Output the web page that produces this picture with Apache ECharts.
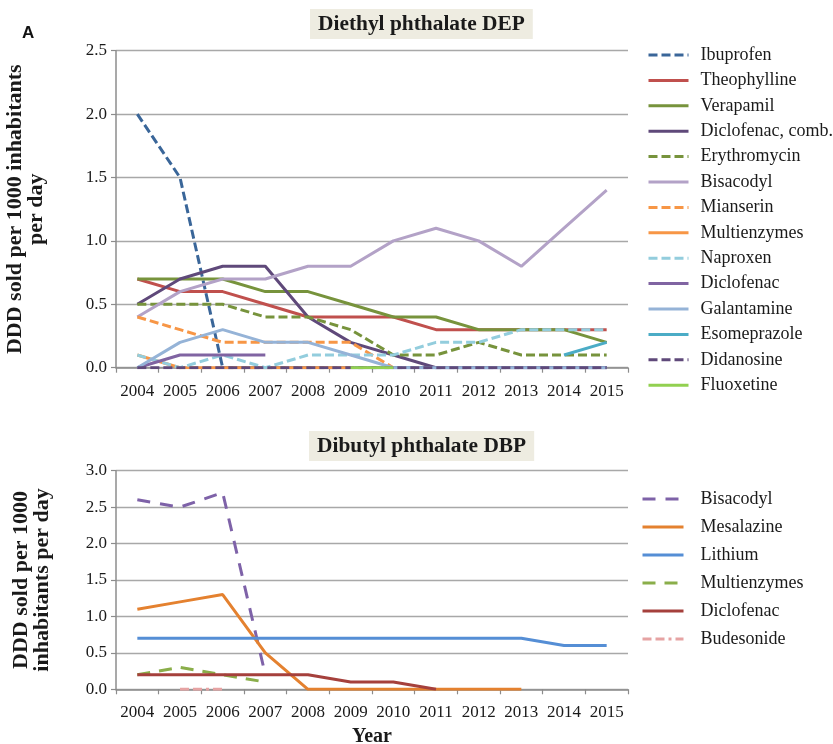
<!DOCTYPE html>
<html>
<head>
<meta charset="utf-8">
<script src="https://cdn.jsdelivr.net/npm/echarts@6/dist/echarts.min.js"></script>
<style>html,body{margin:0;padding:0;background:#fff}#c{width:833px;height:744px}</style>
</head>
<body>
<div id="c"></div>
<script>
const years = ['2004','2005','2006','2007','2008','2009','2010','2011','2012','2013','2014','2015'];

// Diethyl phthalate DEP
const ibuprofen      = [2.0,1.5,0,0,0,0,0,0,0,0,0,0];
const theophylline   = [0.7,0.6,0.6,0.5,0.4,0.4,0.4,0.3,0.3,0.3,0.3,0.3];
const verapamil      = [0.7,0.7,0.7,0.6,0.6,0.5,0.4,0.4,0.3,0.3,0.3,0.2];
const diclofenacComb = [0.5,0.7,0.8,0.8,0.4,0.2,0.1,0,0,0,0,0];
const erythromycin   = [0.5,0.5,0.5,0.4,0.4,0.3,0.1,0.1,0.2,0.1,0.1,0.1];
const bisacodylDep   = [0.4,0.6,0.7,0.7,0.8,0.8,1.0,1.1,1.0,0.8,1.1,1.4];
const mianserin      = [0.4,0.3,0.2,0.2,0.2,0.2,0,null,null,null,null,null];
const multienzDep    = [0.1,0,0,0,0,0,null,null,null,null,null,null];
const naproxen       = [0.1,0,0.1,0,0.1,0.1,0.1,0.2,0.2,0.3,0.3,0.3];
const diclofenacDep  = [0,0.1,0.1,0.1,null,null,null,null,null,null,null,null];
const galantamine    = [0,0.2,0.3,0.2,0.2,0.1,0,0,0,0,0,0];
const esomeprazole   = [null,null,null,null,null,null,null,null,null,null,0.1,0.2];
const didanosine     = [0,0,0,0,0,0,0,0,0,0,0,0];
const fluoxetine     = [null,null,null,null,null,0,0,null,null,null,null,null];

// Dibutyl phthalate DBP
const bisacodylDbp   = [2.6,2.5,2.7,0.2,null,null,null,null,null,null,null,null];
const mesalazine     = [1.1,1.2,1.3,0.5,0,0,0,0,0,0,null,null];
const lithium        = [0.7,0.7,0.7,0.7,0.7,0.7,0.7,0.7,0.7,0.7,0.6,0.6];
const multienzDbp    = [0.2,0.3,0.2,0.1,null,null,null,null,null,null,null,null];
const diclofenacDbp  = [0.2,0.2,0.2,0.2,0.2,0.1,0.1,0,null,null,null,null];
const budesonide     = [null,0,0,null,null,null,null,null,null,null,null,null];

const topTicks = [0,0.5,1.0,1.5,2.0,2.5];
const botTicks = [0,0.5,1.0,1.5,2.0,2.5,3.0];

const SERIF = '"Liberation Serif", "DejaVu Serif", serif';
const TXT = '#1a1a1a';

function ln(name, data, color, type, axis, width) {
  return {
    name: name, type: 'line', data: data,
    xAxisIndex: axis, yAxisIndex: axis,
    symbol: 'none', showSymbol: false, connectNulls: false,
    lineStyle: { color: color, width: width || 3, type: type || 'solid', cap: 'butt' },
    itemStyle: { color: color },
    emphasis: { disabled: true }
  };
}
const D = [9, 4];
const topSeries = [
  ln('Ibuprofen', ibuprofen, '#3A6699', D, 0),
  ln('Theophylline', theophylline, '#C0504D', 'solid', 0),
  ln('Verapamil', verapamil, '#77933C', 'solid', 0),
  ln('Diclofenac, comb.', diclofenacComb, '#5F497A', 'solid', 0),
  ln('Erythromycin', erythromycin, '#77933C', D, 0),
  ln('Bisacodyl', bisacodylDep, '#B3A2C7', 'solid', 0),
  ln('Mianserin', mianserin, '#F79646', D, 0),
  ln('Multienzymes', multienzDep, '#F79646', 'solid', 0),
  ln('Naproxen', naproxen, '#93CDDD', D, 0),
  ln('Diclofenac', diclofenacDep, '#8064A2', 'solid', 0),
  ln('Galantamine', galantamine, '#95B3D7', 'solid', 0),
  ln('Esomeprazole', esomeprazole, '#4BACC6', 'solid', 0),
  ln('Didanosine', didanosine, '#5F497A', D, 0),
  ln('Fluoxetine', fluoxetine, '#92D050', 'solid', 0)
];
const botSeries = [
  ln('Bisacodyl ', bisacodylDbp, '#7E62A8', [13, 10], 1),
  ln('Mesalazine', mesalazine, '#E4812F', 'solid', 1),
  ln('Lithium', lithium, '#558ED5', 'solid', 1),
  ln('Multienzymes ', multienzDbp, '#8AAE4A', [13, 9], 1),
  ln('Diclofenac ', diclofenacDbp, '#A5403C', 'solid', 1),
  ln('Budesonide', budesonide, '#E6A3A3', [9, 4, 9, 4, 3, 4], 1)
];

function xAx(idx, withName) {
  const a = {
    type: 'category', data: years, gridIndex: idx, boundaryGap: true,
    axisLine: { show: true, lineStyle: { color: '#8C8C8C', width: 1.5 } },
    axisTick: { show: true, interval: 0, length: 5, lineStyle: { color: '#8C8C8C', width: 1.2 } },
    axisLabel: { interval: 0, margin: 15, fontFamily: SERIF, fontSize: 17, color: TXT },
    splitLine: { show: false }
  };
  if (withName) {
    a.name = 'Year'; a.nameLocation = 'middle'; a.nameGap = 38;
    a.nameTextStyle = { fontFamily: SERIF, fontSize: 20, fontWeight: 'bold', color: TXT };
  }
  return a;
}
function yAx(idx, ticks, name, gap) {
  return {
    type: 'value', gridIndex: idx, min: ticks[0], max: ticks[ticks.length - 1], interval: 0.5,
    axisLine: { show: true, lineStyle: { color: '#8C8C8C', width: 1.5 } },
    axisTick: { show: true, length: 5, lineStyle: { color: '#8C8C8C', width: 1.2 } },
    axisLabel: { margin: 9, fontFamily: SERIF, fontSize: 17, color: TXT, formatter: v => v.toFixed(1) },
    splitLine: { show: true, lineStyle: { color: '#A8A8A8', width: 1.3 } },
    name: name, nameLocation: 'middle', nameRotate: 90, nameGap: gap,
    nameTextStyle: { fontFamily: SERIF, fontSize: 22, fontWeight: 'bold', color: TXT, lineHeight: 21 }
  };
}

const legendCommon = {
  orient: 'vertical', selectedMode: false, padding: 0,
  itemStyle: { opacity: 0, color: 'transparent', borderColor: 'transparent', borderWidth: 0 },
  lineStyle: { width: 3 },
  formatter: n => n.trim()
};

const chart = echarts.init(document.getElementById('c'), null, { renderer: 'canvas' });
chart.setOption({
  animation: false,
  backgroundColor: '#ffffff',
  title: [
    { text: 'A', left: 22, top: 25, padding: 0,
      textStyle: { fontFamily: '"Liberation Sans", Arial, sans-serif', fontSize: 17, fontWeight: 'bold', color: '#111' } },
    { text: 'Diethyl phthalate DEP', left: 310, top: 9, padding: [5, 8, 4, 8], backgroundColor: '#EEECE1',
      textStyle: { fontFamily: SERIF, fontSize: 21.4, fontWeight: 'bold', color: TXT } },
    { text: 'Dibutyl phthalate DBP', left: 309, top: 431, padding: [5, 8, 4, 8], backgroundColor: '#EEECE1',
      textStyle: { fontFamily: SERIF, fontSize: 21.4, fontWeight: 'bold', color: TXT } }
  ],
  legend: [
    Object.assign({}, legendCommon, {
      left: 647, top: 46, itemWidth: 40, itemHeight: 14, itemGap: 7.4,
      data: topSeries.map(s => s.name),
      textStyle: { fontFamily: SERIF, fontSize: 18, color: TXT, padding: [0, 0, 0, 7] } }),
    Object.assign({}, legendCommon, {
      left: 641, top: 490, itemWidth: 41, itemHeight: 14, itemGap: 10,
      data: botSeries.map(s => s.name),
      textStyle: { fontFamily: SERIF, fontSize: 18, color: TXT, padding: [0, 0, 0, 12] } })
  ],
  grid: [
    { left: 116, top: 50.7, width: 512, height: 317, containLabel: false, outerBoundsMode: 'none' },
    { left: 116, top: 470.7, width: 512, height: 218.6, containLabel: false, outerBoundsMode: 'none' }
  ],
  xAxis: [xAx(0, false), xAx(1, true)],
  yAxis: [
    yAx(0, topTicks, 'DDD sold per 1000 inhabitants\nper day', 69),
    yAx(1, botTicks, 'DDD sold per 1000\ninhabitants per day', 63)
  ],
  series: topSeries.concat(botSeries)
});
</script>
</body>
</html>
